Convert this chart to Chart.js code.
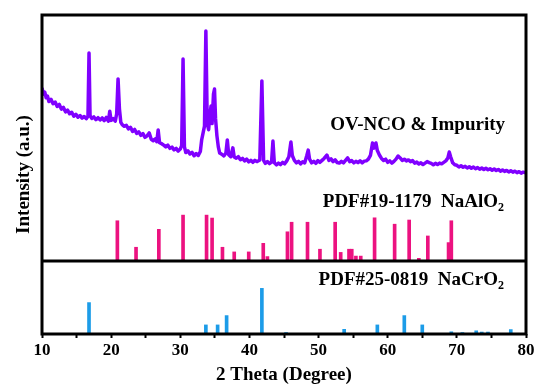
<!DOCTYPE html>
<html>
<head>
<meta charset="utf-8">
<script src="https://cdn.jsdelivr.net/npm/chart.js@4"></script>
<style>
  html, body { margin: 0; padding: 0; background: #fff; }
  #wrap { width: 539px; height: 390px; }
</style>
</head>
<body>
<div id="wrap"><canvas id="xrd"></canvas></div>
<script>
// measured pattern, OV-NCO & impurity (2theta, intensity above divider)
const twoTheta = [
  10.0,10.2,10.4,10.6,10.8,11.0,11.3,11.6,11.9,12.2,12.5,12.8,13.1,13.4,13.7,14.0,14.3,14.6,14.9,15.2,
  15.5,15.8,16.1,16.4,16.65,16.8,16.95,17.2,17.5,17.8,18.1,18.4,18.7,19.0,19.3,19.6,19.8,20.0,20.3,20.6,
  20.8,21.0,21.2,21.4,21.6,21.9,22.2,22.5,22.8,23.1,23.4,23.7,24.0,24.3,24.6,24.9,25.2,25.5,25.8,26.1,
  26.4,26.6,26.8,27.0,27.3,27.6,27.9,28.2,28.5,28.8,29.1,29.4,29.7,30.0,30.2,30.4,30.6,30.8,31.1,31.4,
  31.7,32.0,32.3,32.6,32.9,33.1,33.3,33.5,33.7,33.9,34.1,34.3,34.45,34.6,34.8,34.95,35.1,35.3,35.5,35.7,
  36.0,36.3,36.6,36.8,37.0,37.3,37.6,37.8,38.1,38.4,38.7,39.0,39.3,39.6,39.9,40.2,40.5,40.8,41.1,41.5,
  41.8,42.05,42.3,42.6,42.9,43.2,43.4,43.6,43.9,44.2,44.5,44.8,45.1,45.4,45.7,46.0,46.2,46.5,46.8,47.1,
  47.4,47.7,48.0,48.3,48.5,48.7,49.0,49.3,49.6,49.9,50.2,50.5,50.8,51.2,51.5,51.8,52.1,52.4,52.7,53.0,
  53.3,53.6,53.9,54.2,54.5,54.8,55.1,55.4,55.7,56.0,56.3,56.6,56.9,57.2,57.5,57.8,58.0,58.3,58.5,58.8,
  59.1,59.4,59.7,60.0,60.3,60.6,60.9,61.2,61.5,61.8,62.1,62.4,62.7,63.0,63.3,63.6,63.9,64.2,64.5,64.8,
  65.1,65.4,65.7,66.0,66.3,66.6,66.9,67.2,67.5,67.8,68.1,68.4,68.7,68.9,69.1,69.4,69.7,70.0,70.3,70.6,
  70.9,71.2,71.5,71.8,72.1,72.4,72.7,73.0,73.3,73.6,73.9,74.2,74.5,74.8,75.1,75.4,75.7,76.0,76.3,76.6,
  76.9,77.2,77.5,77.8,78.1,78.4,78.7,79.0,79.3,79.6,80.0
];
const intensity = [
  70.5,68.0,68.8,66.5,67.2,65.0,65.9,64.1,64.8,63.0,63.8,61.9,62.6,60.8,61.5,60.0,60.6,59.0,59.8,58.6,
  59.3,58.2,58.9,58.0,59.0,84.8,59.2,58.1,58.7,57.6,58.4,57.5,58.3,57.2,58.5,57.0,61.0,57.3,58.0,57.0,
  60.0,74.2,62.0,56.5,55.6,54.9,55.3,53.8,54.5,52.8,53.6,52.0,52.6,51.2,51.9,50.4,51.0,52.2,49.6,49.0,
  49.8,48.6,53.4,48.2,47.8,47.2,46.5,47.2,45.9,46.4,45.3,45.9,44.8,45.6,47.0,82.3,46.5,44.2,44.9,43.6,
  44.3,42.9,43.8,43.0,44.6,49.5,52.2,55.0,93.7,56.0,53.5,60.0,63.2,56.0,68.0,70.1,58.0,51.0,46.5,44.0,
  43.5,42.8,44.0,49.3,43.3,42.5,46.1,42.4,41.9,42.5,41.3,41.8,40.8,41.5,40.4,41.0,40.2,41.0,40.5,41.2,
  73.4,41.0,39.8,40.5,39.7,40.3,48.9,40.0,39.2,39.9,39.3,40.2,39.6,40.8,42.5,48.5,43.0,41.0,40.0,40.6,
  39.6,40.4,40.0,43.0,45.2,41.5,40.0,40.6,39.8,40.9,40.2,41.0,41.8,43.2,41.0,41.6,40.5,41.2,40.1,39.9,
  40.6,40.0,41.0,42.0,40.5,40.9,40.0,40.6,40.1,40.8,40.0,40.7,40.8,41.5,43.0,48.1,46.0,48.1,45.0,43.2,
  41.8,41.0,41.5,40.2,40.8,39.9,40.6,41.5,42.8,42.0,41.0,41.5,40.8,41.2,40.5,40.9,39.9,40.3,39.5,40.0,
  39.3,39.9,40.5,40.1,39.8,39.2,39.8,39.3,39.9,39.6,40.2,40.8,42.0,44.4,42.5,40.0,39.2,39.0,38.3,38.8,
  38.2,38.6,37.9,38.4,37.8,38.3,37.6,38.1,37.4,37.9,37.3,37.8,37.2,37.6,37.0,37.5,36.9,37.3,36.6,37.1,
  36.5,36.9,36.3,36.8,36.2,36.6,36.0,36.4,35.8,36.2,35.9
];

// PDF#19-1179 NaAlO2 reference lines
const alPos = [20.9,23.6,26.9,30.4,33.8,34.6,36.1,37.8,39.9,42.0,42.6,45.5,46.1,48.4,50.2,52.4,53.2,54.4,54.8,55.4,56.1,58.1,61.0,63.1,64.5,65.8,68.8,69.2];
const alInt = [16.4,5.6,12.9,18.7,18.7,17.5,5.6,3.7,3.7,7.2,1.8,11.9,15.8,15.8,4.8,15.8,3.5,4.8,4.8,2.0,2.0,17.6,15.0,16.7,1.1,10.2,7.5,16.4];

// PDF#25-0819 NaCrO2 reference lines
const crPos = [16.8,33.7,35.4,36.7,41.8,45.3,53.7,58.5,62.4,65.0,69.2,70.8,72.8,73.6,74.5,77.8];
const crInt = [12.8,3.7,3.7,7.5,18.6,0.6,1.9,3.7,7.5,3.7,0.9,0.6,1.3,0.8,0.8,1.8];

const xTicks = [10,20,30,40,50,60,70,80];

const DIVIDE = 29.75;   // panel split on the y scale
const YMAX = 130;

const serif = '"Liberation Serif", "Times New Roman", serif';

const linePts = twoTheta.map((t, i) => ({ x: t, y: intensity[i] + DIVIDE }));
const alBars = alPos.map((t, i) => ({ x: t, y: [DIVIDE, DIVIDE + alInt[i]] }));
const crBars = crPos.map((t, i) => ({ x: t, y: [0, crInt[i]] }));

function drawFormula(ctx, main, sub, xr, yc, size) {
  ctx.font = 'bold ' + size + 'px ' + serif;
  const mainW = ctx.measureText(main).width;
  ctx.font = 'bold ' + Math.round(size * 0.62) + 'px ' + serif;
  const subW = ctx.measureText(sub).width;
  ctx.textBaseline = 'middle';
  ctx.textAlign = 'left';
  ctx.fillText(sub, xr - subW, yc + size * 0.3);
  ctx.font = 'bold ' + size + 'px ' + serif;
  ctx.fillText(main, xr - subW - mainW, yc);
}

const framePlugin = {
  id: 'frame',
  afterDatasetsDraw(chart) {
    const { ctx, chartArea: a, scales: { y } } = chart;
    ctx.save();
    ctx.strokeStyle = '#000';
    ctx.lineWidth = 3;
    ctx.strokeRect(a.left, a.top, a.right - a.left, a.bottom - a.top);
    const yd = y.getPixelForValue(DIVIDE);
    ctx.beginPath();
    ctx.moveTo(a.left, yd);
    ctx.lineTo(a.right, yd);
    ctx.stroke();

    ctx.fillStyle = '#000';
    ctx.font = 'bold 19px ' + serif;
    ctx.textAlign = 'right';
    ctx.textBaseline = 'middle';
    ctx.fillText('OV-NCO & Impurity', a.right - 21, a.top + 110);
    drawFormula(ctx, 'PDF#19-1179  NaAlO', '2', a.right - 22, yd - 59, 19);
    drawFormula(ctx, 'PDF#25-0819  NaCrO', '2', a.right - 22, yd + 19, 19);
    ctx.restore();
  }
};

new Chart(document.getElementById('xrd'), {
  data: {
    datasets: [
      {
        type: 'line',
        label: 'OV-NCO & Impurity',
        data: linePts,
        borderColor: 'rgb(128, 0, 255)',
        borderWidth: 3.5,
        borderJoinStyle: 'round',
        pointRadius: 0,
        tension: 0,
        fill: false
      },
      {
        type: 'bar',
        label: 'NaAlO2',
        data: alBars,
        backgroundColor: 'rgb(236, 18, 128)',
        barThickness: 3,
        grouped: false
      },
      {
        type: 'bar',
        label: 'NaCrO2',
        data: crBars,
        backgroundColor: 'rgb(28, 156, 232)',
        barThickness: 3,
        grouped: false
      }
    ]
  },
  options: {
    responsive: true,
    maintainAspectRatio: false,
    animation: false,
    layout: { padding: { top: 15, right: 13, left: 0, bottom: 0 } },
    plugins: {
      legend: { display: false },
      tooltip: { enabled: false }
    },
    scales: {
      x: {
        type: 'linear',
        min: 10,
        max: 80,
        offset: false,
        afterBuildTicks: (s) => {
          const t = [];
          for (const v of xTicks) { t.push({ value: v }); if (v < 80) t.push({ value: v + 5 }); }
          s.ticks = t;
        },
        ticks: {
          autoSkip: false,
          maxRotation: 0,
          padding: 2,
          color: '#000',
          font: { family: serif, weight: 'bold', size: 17 },
          callback: (v) => xTicks.includes(v) ? String(v) : ''
        },
        grid: {
          display: true,
          offset: false,
          drawOnChartArea: false,
          drawTicks: true,
          tickLength: 4,
          tickWidth: 2,
          tickColor: '#000'
        },
        border: { display: false },
        title: {
          display: true,
          text: '2 Theta (Degree)',
          color: '#000',
          font: { family: serif, weight: 'bold', size: 19 },
          padding: { top: 0, bottom: 4 }
        },
        afterFit: (s) => { s.height = 56; }
      },
      y: {
        min: 0,
        max: YMAX,
        ticks: { display: false },
        grid: { display: false },
        border: { display: false },
        title: {
          display: true,
          text: 'Intensity (a.u.)',
          color: '#000',
          font: { family: serif, weight: 'bold', size: 19 },
          padding: { top: 13, bottom: 0 }
        },
        afterFit: (s) => { s.width = 42; }
      }
    }
  },
  plugins: [framePlugin]
});
</script>
</body>
</html>
